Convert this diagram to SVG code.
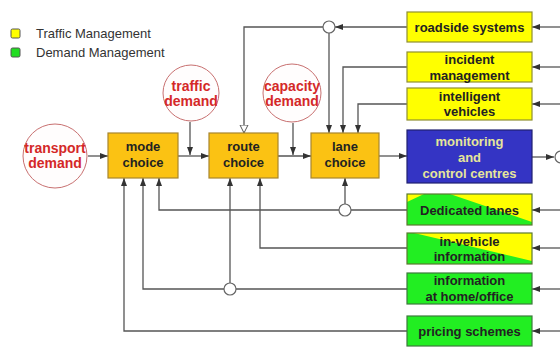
<svg xmlns="http://www.w3.org/2000/svg" width="560" height="348" viewBox="0 0 560 348">
<style>
text{font-family:"Liberation Sans",Arial,sans-serif;}
.lg{font-size:13px;fill:#333;}
.bt{font-size:13px;font-weight:bold;fill:#222;text-anchor:middle;}
.bw{font-size:13px;font-weight:bold;fill:#e6e69a;text-anchor:middle;}
.ct{font-size:14px;font-weight:bold;fill:#d42828;text-anchor:middle;}
.ob{fill:#fbc213;stroke:#a8852e;stroke-width:1.2;}
.yb{fill:#ffff00;stroke:#8f8f30;stroke-width:1.2;}
.gb{fill:#22ee22;stroke:#3d7a3d;stroke-width:1.2;}
.blb{fill:#3434c4;stroke:#202070;stroke-width:1.2;}
.dc{fill:#fffdfd;stroke:#c87070;stroke-width:1;}
.jn{fill:#fff;stroke:#666;stroke-width:1.2;}
.ln{fill:none;stroke:#555;stroke-width:1.3;}
.ar{marker-end:url(#ah);}
.ah2{marker-end:url(#hol);}
</style>
<defs>
<marker id="ah" markerUnits="userSpaceOnUse" markerWidth="9" markerHeight="7" refX="8" refY="3.5" orient="auto">
<path d="M0,0.5 L8,3.5 L0,6.5 Z" fill="#333"/>
</marker>
<marker id="hol" markerUnits="userSpaceOnUse" markerWidth="10" markerHeight="10" refX="8.5" refY="4.5" orient="auto">
<path d="M0.5,0.5 L8.5,4.5 L0.5,8.5 Z" fill="#fff" stroke="#555" stroke-width="1"/>
</marker>
</defs>
<rect width="560" height="348" fill="#fff"/>

<g id="legend">
<rect x="11" y="29" width="9" height="9" rx="1.5" fill="#ffff00" stroke="#555" stroke-width="1"/>
<text class="lg" x="36" y="38">Traffic Management</text>
<rect x="11" y="48" width="9" height="9" rx="1.5" fill="#22dd22" stroke="#555" stroke-width="1"/>
<text class="lg" x="36" y="57">Demand Management</text>
</g>

<g id="connectors">
<path class="ln ar" d="M88,156 H108"/>
<path class="ln ar" d="M178,156 H209"/>
<path class="ln ar" d="M278,156 H311"/>
<path class="ln ar" d="M379,156 H407"/>
<path class="ln ar" d="M532,157 H554"/>
<path class="ln ar" d="M190,122 V155"/>
<path class="ln ar" d="M293,123 V155"/>
<path class="ln ar" d="M407,27 H335"/>
<path class="ln ah2" d="M323,27 H244 V133"/>
<path class="ln ar" d="M329,33 V133"/>
<path class="ln ar" d="M407,67 H343 V133"/>
<path class="ln ar" d="M407,104 H358 V133"/>
<path class="ln ar" d="M560,27 H532"/>
<path class="ln ar" d="M560,67 H532"/>
<path class="ln ar" d="M560,104 H532"/>
<path class="ln ar" d="M560,210 H532"/>
<path class="ln ar" d="M560,248 H532"/>
<path class="ln ar" d="M560,289 H532"/>
<path class="ln ar" d="M560,331 H532"/>
<path class="ln" d="M407,210 H351"/>
<path class="ln ar" d="M339,210 H159 V178"/>
<path class="ln ar" d="M345,204 V178"/>
<path class="ln ar" d="M407,248 H260 V178"/>
<path class="ln" d="M407,289 H236"/>
<path class="ln ar" d="M224,289 H143 V178"/>
<path class="ln ar" d="M230,283 V178"/>
<path class="ln ar" d="M407,331 H124 V178"/>
<circle class="jn" cx="329" cy="27" r="6"/>
<circle class="jn" cx="345" cy="210" r="6"/>
<circle class="jn" cx="230" cy="289" r="6"/>
<circle class="jn" cx="561" cy="157" r="6"/>
</g>

<g id="transport-demand">
<circle class="dc" cx="55" cy="156" r="32"/>
<text class="ct" x="55" y="153">transport</text>
<text class="ct" x="55" y="168">demand</text>
</g>
<g id="traffic-demand">
<circle class="dc" cx="191" cy="93" r="28"/>
<text class="ct" x="191" y="91">traffic</text>
<text class="ct" x="191" y="106">demand</text>
</g>
<g id="capacity-demand">
<circle class="dc" cx="292" cy="93" r="29"/>
<text class="ct" x="292" y="91">capacity</text>
<text class="ct" x="292" y="106">demand</text>
</g>

<g id="mode-choice">
<rect class="ob" x="108" y="133" width="70" height="45"/>
<text class="bt" x="143" y="151">mode</text>
<text class="bt" x="143" y="167">choice</text>
</g>
<g id="route-choice">
<rect class="ob" x="209" y="133" width="69" height="45"/>
<text class="bt" x="243.5" y="151">route</text>
<text class="bt" x="243.5" y="167">choice</text>
</g>
<g id="lane-choice">
<rect class="ob" x="311" y="133" width="68" height="45"/>
<text class="bt" x="345" y="151">lane</text>
<text class="bt" x="345" y="167">choice</text>
</g>

<g id="roadside-systems">
<rect class="yb" x="407" y="12" width="125" height="30"/>
<text class="bt" x="469.5" y="32">roadside systems</text>
</g>
<g id="incident-management">
<rect class="yb" x="407" y="52" width="125" height="30"/>
<text class="bt" x="469.5" y="64">incident</text>
<text class="bt" x="469.5" y="80">management</text>
</g>
<g id="intelligent-vehicles">
<rect class="yb" x="407" y="88" width="125" height="32"/>
<text class="bt" x="469.5" y="101">intelligent</text>
<text class="bt" x="469.5" y="116">vehicles</text>
</g>
<g id="monitoring">
<rect class="blb" x="407" y="130" width="125" height="53"/>
<text class="bw" x="469.5" y="146">monitoring</text>
<text class="bw" x="469.5" y="162">and</text>
<text class="bw" x="469.5" y="178">control centres</text>
</g>
<g id="dedicated-lanes">
<rect x="407" y="194" width="125" height="31" fill="#ffff00"/>
<polygon points="407,202 424,194 450,194 532,222 532,225 407,225" fill="#22ee22"/>
<rect x="407" y="194" width="125" height="31" fill="none" stroke="#5a7a30" stroke-width="1.2"/>
<text class="bt" x="469.5" y="215">Dedicated lanes</text>
</g>
<g id="in-vehicle-information">
<rect x="407" y="233" width="125" height="31" fill="#ffff00"/>
<polygon points="407,233 414,233 532,261 532,264 407,264" fill="#22ee22"/>
<rect x="407" y="233" width="125" height="31" fill="none" stroke="#5a7a30" stroke-width="1.2"/>
<text class="bt" x="469.5" y="246">in-vehicle</text>
<text class="bt" x="469.5" y="261">information</text>
</g>
<g id="information-home-office">
<rect class="gb" x="407" y="273" width="125" height="31"/>
<text class="bt" x="469.5" y="285">information</text>
<text class="bt" x="469.5" y="301">at home/office</text>
</g>
<g id="pricing-schemes">
<rect class="gb" x="407" y="316" width="125" height="30"/>
<text class="bt" x="469.5" y="336">pricing schemes</text>
</g>
</svg>
